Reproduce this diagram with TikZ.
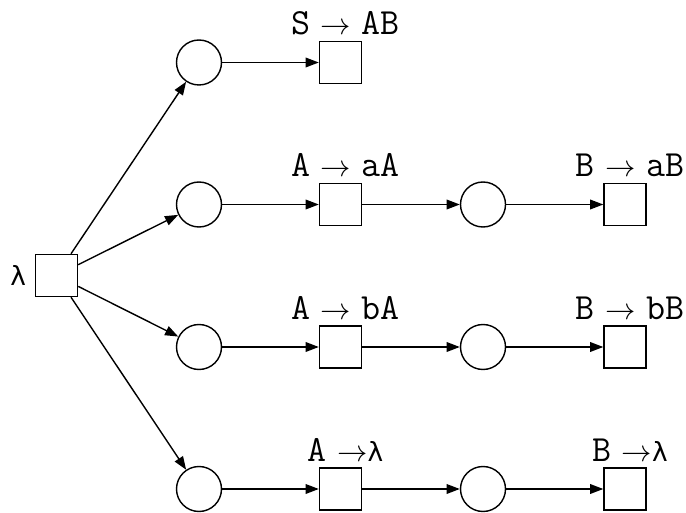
\documentclass[tikz,border=0pt]{standalone}
\usepackage{fontspec}
\usetikzlibrary{arrows.meta,positioning}
\newfontfamily\lamfont{DejaVu Sans}
\newcommand{\yields}{\hspace{6pt}{\fontsize{16}{16}\selectfont$\to$}}
\newcommand{\lamsym}{{\lamfont\fontsize{15}{18}\selectfont λ}}

\begin{document}
\begin{tikzpicture}[line width=0.8pt,>={Triangle[length=7.5pt,width=5.5pt]}]
\useasboundingbox (0,0) rectangle (13.72,-10.26);

\tikzstyle{circ}=[draw,shape=circle,minimum size=0.9cm,inner sep=0]
\tikzstyle{sq}=[draw,shape=rectangle,minimum size=0.84cm,inner sep=0]
\tikzstyle{rule}=[anchor=base,inner sep=0,font=\ttfamily\fontsize{21}{24}\selectfont]

% Start node
\node[sq] (lam) at (1.13,-5.51) {};
\node[left=0.16cm of lam,inner sep=0] (lamlabel) {\lamsym};

% Circles and rule boxes of every row
\foreach \i/\y in {1/-1.25,2/-4.09,3/-6.94,4/-9.78} {
  \node[circ] (c\i) at (3.98,\y) {};
  \node[sq] (s\i) at (6.81,\y) {};
}
\foreach \i/\y in {2/-4.09,3/-6.94,4/-9.78} {
  \node[circ] (d\i) at (9.66,\y) {};
  \node[sq] (t\i) at (12.50,\y) {};
}

% Rules above the boxes
\node[rule] (r1) at ([xshift=0.1cm,yshift=0.12cm]s1.north) {S\yields\hspace{6pt}AB};
\node[rule] (r2) at ([xshift=0.1cm,yshift=0.12cm]s2.north) {A\yields\hspace{6pt}aA};
\node[rule] (r3) at ([xshift=0.1cm,yshift=0.12cm]s3.north) {A\yields\hspace{6pt}bA};
\node[rule] (r4) at ([xshift=0.1cm,yshift=0.12cm]s4.north) {A\yields\lamsym};
\node[rule] (q2) at ([xshift=0.1cm,yshift=0.12cm]t2.north) {B\yields\hspace{6pt}aB};
\node[rule] (q3) at ([xshift=0.1cm,yshift=0.12cm]t3.north) {B\yields\hspace{6pt}bB};
\node[rule] (q4) at ([xshift=0.1cm,yshift=0.12cm]t4.north) {B\yields\lamsym};

% Links between the nodes
\foreach \i in {1,...,4} {
  \draw[->] (lam) -- (c\i);
  \draw[->] (c\i) -- (s\i);
}
\foreach \i in {2,3,4} {
  \draw[->] (s\i) -- (d\i);
  \draw[->] (d\i) -- (t\i);
}

\end{tikzpicture}
\end{document}
